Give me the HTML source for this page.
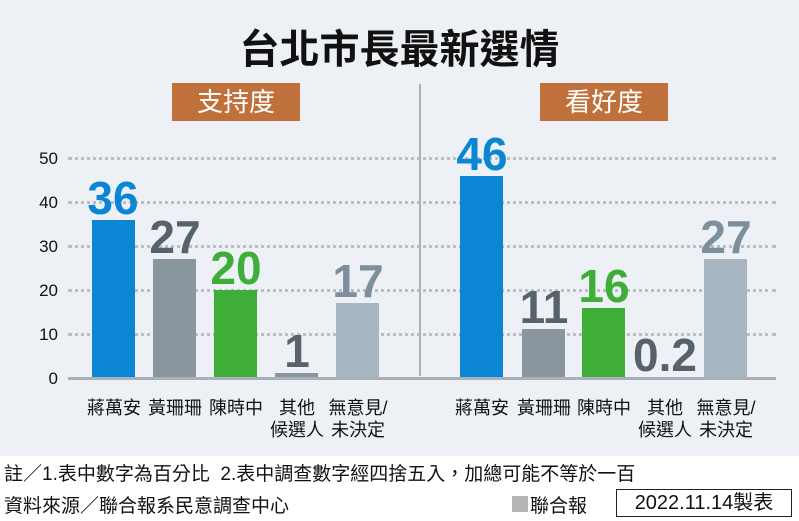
<!DOCTYPE html><html><head><meta charset="utf-8"><style>
body{margin:0;width:799px;height:521px;position:relative;background:#fff;font-family:"Liberation Sans","Noto Sans CJK TC",sans-serif;overflow:hidden}
.a{position:absolute}
.bg{left:0;top:0;width:799px;height:456px;background:#edf1f5}
.t{left:0;width:799px;top:17px;text-align:center;font-size:40px;font-weight:bold;color:#111}
.badge{background:#c0703a;color:#fff;font-size:26px;text-align:center;line-height:38px;height:38px;width:128px;top:83px}
.yl{font-size:17px;color:#111;width:40px;text-align:right;left:18px}
.grid{left:68px;width:708px;border-top:3px dotted #b8bec4;height:0}
.bar{width:43px}
.v{font-weight:bold;font-size:46px;width:90px;text-align:center}
.lab{font-size:18px;color:#111;text-align:center;line-height:22px;width:80px;top:397px}
.n{font-size:19px;color:#111;left:4px}
</style></head><body>
<div class="a bg"></div>
<div class="a t">台北市長最新選情</div>
<div class="a badge" style="left:172px">支持度</div>
<div class="a badge" style="left:540px">看好度</div>
<div class="a yl" style="top:149px">50</div>
<div class="a yl" style="top:193px">40</div>
<div class="a yl" style="top:237px">30</div>
<div class="a yl" style="top:281px">20</div>
<div class="a yl" style="top:325px">10</div>
<div class="a yl" style="top:369px">0</div>
<div class="a grid" style="top:157px"></div>
<div class="a grid" style="top:201px"></div>
<div class="a grid" style="top:245px"></div>
<div class="a grid" style="top:289px"></div>
<div class="a grid" style="top:333px"></div>
<div class="a" style="left:419px;top:84px;width:2px;height:292px;background:#a9b0b6"></div>
<div class="a bar" style="left:92px;top:220px;height:158px;background:#0a86d4"></div>
<div class="a bar" style="left:153px;top:259px;height:119px;background:#8a969e"></div>
<div class="a bar" style="left:214px;top:290px;height:88px;background:#3eae39"></div>
<div class="a bar" style="left:275px;top:373px;height:5px;background:#8a969e"></div>
<div class="a bar" style="left:336px;top:303px;height:75px;background:#a8b6c1"></div>
<div class="a bar" style="left:460px;top:176px;height:202px;background:#0a86d4"></div>
<div class="a bar" style="left:522px;top:329px;height:49px;background:#8a969e"></div>
<div class="a bar" style="left:582px;top:308px;height:70px;background:#3eae39"></div>
<div class="a bar" style="left:643px;top:377px;height:1px;background:#8a969e"></div>
<div class="a bar" style="left:704px;top:259px;height:119px;background:#a8b6c1"></div>
<div class="a" style="left:68px;top:377px;width:708px;height:3px;background:#a9b0b6"></div>
<div class="a v" style="left:68px;top:171px;color:#0a86d4">36</div>
<div class="a v" style="left:130px;top:210px;color:#56636d">27</div>
<div class="a v" style="left:191px;top:241px;color:#3eae39">20</div>
<div class="a v" style="left:252px;top:324px;color:#56636d">1</div>
<div class="a v" style="left:313px;top:254px;color:#7d8f9c">17</div>
<div class="a v" style="left:437px;top:127px;color:#0a86d4">46</div>
<div class="a v" style="left:499px;top:280px;color:#56636d">11</div>
<div class="a v" style="left:559px;top:259px;color:#3eae39">16</div>
<div class="a v" style="left:620px;top:328px;color:#56636d">0.2</div>
<div class="a v" style="left:681px;top:210px;color:#7d8f9c">27</div>
<div class="a lab" style="left:74px">蔣萬安</div>
<div class="a lab" style="left:135px">黃珊珊</div>
<div class="a lab" style="left:196px">陳時中</div>
<div class="a lab" style="left:257px">其他<br>候選人</div>
<div class="a lab" style="left:318px">無意見/<br>未決定</div>
<div class="a lab" style="left:442px">蔣萬安</div>
<div class="a lab" style="left:504px">黃珊珊</div>
<div class="a lab" style="left:564px">陳時中</div>
<div class="a lab" style="left:625px">其他<br>候選人</div>
<div class="a lab" style="left:686px">無意見/<br>未決定</div>
<div class="a n" style="top:459px">註／1.表中數字為百分比&nbsp; 2.表中調查數字經四捨五入，加總可能不等於一百</div>
<div class="a n" style="top:491px">資料來源／聯合報系民意調查中心</div>
<div class="a" style="left:512px;top:496px;width:16px;height:16px;background:#b5b5b5"></div>
<div class="a n" style="left:530px;top:491px">聯合報</div>
<div class="a" style="left:616px;top:489px;width:176px;height:28px;border:1px solid #222;box-sizing:border-box;font-size:20px;line-height:26px;text-align:center;color:#111">2022.11.14製表</div>
</body></html>
